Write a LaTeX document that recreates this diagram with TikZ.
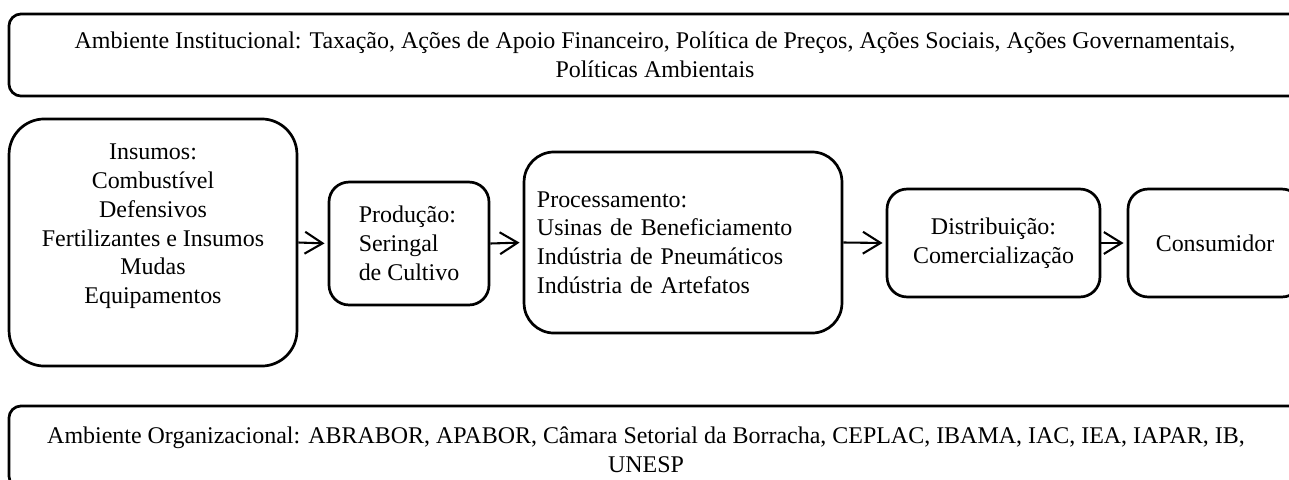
\documentclass[tikz,border=0pt]{standalone}
\usepackage{fontspec}
\setmainfont{Liberation Serif}
\usetikzlibrary{arrows.meta}

\tikzset{
  caixa/.style={draw, line width=1.3pt, rounded corners=#1, align=center, font=\fontsize{11.5}{13.8}\selectfont},
  caixa/.default=9.6pt,
  texto/.style={align=center, font=\fontsize{11.5}{13.8}\selectfont},
  seta/.style={line width=1pt, -{Straight Barb[length=8.5pt,width=10.5pt,line width=1pt]}, shorten >=1.5pt}
}

\begin{document}
\begin{tikzpicture}[x=0.48pt,y=-0.48pt]
  \useasboundingbox (0,0) rectangle (1289,479);
  \clip (0,0) rectangle (1289,479);

  % ambientes
  \node[caixa=5.8pt, minimum width=620.2pt, minimum height=39.4pt] (inst) at (655,55) {Ambiente Institucional: Taxação, Ações de Apoio Financeiro, Política de Preços, Ações Sociais, Ações Governamentais,\\ Políticas Ambientais};
  \node[caixa=5.8pt, minimum width=620.2pt, minimum height=39.4pt] (org) at (655,447) {};
  \node[texto] (orgtxt) at (646,450) {Ambiente Organizacional: ABRABOR, APABOR, Câmara Setorial da Borracha, CEPLAC, IBAMA, IAC, IEA, IAPAR, IB,\\ UNESP};

  % cadeia produtiva
  \node[caixa=17pt, minimum width=138.2pt, minimum height=118.6pt] (insumos) at (153,242.5) {};
  \node[texto] (insumostxt) at (153,226.5) {Insumos:\\ Combustível\\ Defensivos\\ Fertilizantes e Insumos\\ Mudas\\ Equipamentos};
  \node[caixa, align=left, minimum width=76.8pt, minimum height=59pt] (producao) at (409,243.5) {Produção:\\ Seringal\\ de Cultivo};
  \node[caixa=14.4pt, align=left, text width=140.2pt, inner xsep=6.2pt, minimum height=86.9pt] (proc) at (683,242.5) {Processamento:\\ Usinas de Beneficiamento\\ Indústria de Pneumáticos\\ Indústria de Artefatos};
  \node[caixa, minimum width=102.2pt, minimum height=51.8pt] (distrib) at (993.5,243) {Distribuição:\\ Comercialização};
  \node[caixa, minimum width=83.5pt, minimum height=51.8pt] (consumidor) at (1215,243) {Consumidor};

  \draw[seta] (insumos.east) -- (producao.west);
  \draw[seta] (producao.east) -- (proc.west);
  \draw[seta] (proc.east) -- (distrib.west);
  \draw[seta] (distrib.east) -- (consumidor.west);
\end{tikzpicture}
\end{document}
